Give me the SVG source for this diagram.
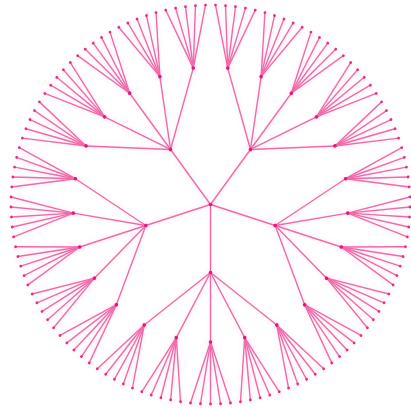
<svg xmlns="http://www.w3.org/2000/svg" xmlns:xlink="http://www.w3.org/1999/xlink" width="411" height="408" viewBox="0 0 411 408">
<style>
.lk use{fill:none;stroke:#f06aa9;stroke-width:1.4}
.nd circle{fill:#e8157a}
.lf circle{fill:#ea2a86}
</style>
<defs>
<filter id="glow" x="-10%" y="-10%" width="120%" height="120%">
<feGaussianBlur in="SourceGraphic" stdDeviation="2.5" result="b"/>
<feComponentTransfer in="b" result="c"><feFuncA type="linear" slope="0.2"/></feComponentTransfer>
<feMerge><feMergeNode in="c"/><feMergeNode in="SourceGraphic"/></feMerge>
</filter>
<path id="o" d="M0 0H68"/>
<path id="p" d="M68 0L120.49 -66.24"/>
<path id="q" d="M68 0L133.18 -34.2"/>
<path id="r" d="M68 0H137.5"/>
<path id="s" d="M68 0L133.18 34.2"/>
<path id="t" d="M68 0L120.49 66.24"/>
<path id="a" d="M137.5 0L198.49 -20.02"/>
<path id="b" d="M137.5 0L199.25 -10.02"/>
<path id="c" d="M137.5 0H199.5"/>
<path id="d" d="M137.5 0L199.25 10.02"/>
<path id="e" d="M137.5 0L198.49 20.02"/>
</defs>
<rect width="411" height="408" fill="#fff"/>
<g transform="translate(210.5 204.5)" filter="url(#glow)">
<g id="links" class="lk">
<g transform="rotate(90)"><use href="#o"/><use href="#p"/><use href="#q"/><use href="#r"/><use href="#s"/><use href="#t"/></g>
<g transform="rotate(162)"><use href="#o"/><use href="#p"/><use href="#q"/><use href="#r"/><use href="#s"/><use href="#t"/></g>
<g transform="rotate(234)"><use href="#o"/><use href="#p"/><use href="#q"/><use href="#r"/><use href="#s"/><use href="#t"/></g>
<g transform="rotate(306)"><use href="#o"/><use href="#p"/><use href="#q"/><use href="#r"/><use href="#s"/><use href="#t"/></g>
<g transform="rotate(18)"><use href="#o"/><use href="#p"/><use href="#q"/><use href="#r"/><use href="#s"/><use href="#t"/></g>
<g transform="rotate(61.2)"><use href="#a"/><use href="#b"/><use href="#c"/><use href="#d"/><use href="#e"/></g>
<g transform="rotate(75.6)"><use href="#a"/><use href="#b"/><use href="#c"/><use href="#d"/><use href="#e"/></g>
<g transform="rotate(90)"><use href="#a"/><use href="#b"/><use href="#c"/><use href="#d"/><use href="#e"/></g>
<g transform="rotate(104.4)"><use href="#a"/><use href="#b"/><use href="#c"/><use href="#d"/><use href="#e"/></g>
<g transform="rotate(118.8)"><use href="#a"/><use href="#b"/><use href="#c"/><use href="#d"/><use href="#e"/></g>
<g transform="rotate(133.2)"><use href="#a"/><use href="#b"/><use href="#c"/><use href="#d"/><use href="#e"/></g>
<g transform="rotate(147.6)"><use href="#a"/><use href="#b"/><use href="#c"/><use href="#d"/><use href="#e"/></g>
<g transform="rotate(162)"><use href="#a"/><use href="#b"/><use href="#c"/><use href="#d"/><use href="#e"/></g>
<g transform="rotate(176.4)"><use href="#a"/><use href="#b"/><use href="#c"/><use href="#d"/><use href="#e"/></g>
<g transform="rotate(190.8)"><use href="#a"/><use href="#b"/><use href="#c"/><use href="#d"/><use href="#e"/></g>
<g transform="rotate(205.2)"><use href="#a"/><use href="#b"/><use href="#c"/><use href="#d"/><use href="#e"/></g>
<g transform="rotate(219.6)"><use href="#a"/><use href="#b"/><use href="#c"/><use href="#d"/><use href="#e"/></g>
<g transform="rotate(234)"><use href="#a"/><use href="#b"/><use href="#c"/><use href="#d"/><use href="#e"/></g>
<g transform="rotate(248.4)"><use href="#a"/><use href="#b"/><use href="#c"/><use href="#d"/><use href="#e"/></g>
<g transform="rotate(262.8)"><use href="#a"/><use href="#b"/><use href="#c"/><use href="#d"/><use href="#e"/></g>
<g transform="rotate(277.2)"><use href="#a"/><use href="#b"/><use href="#c"/><use href="#d"/><use href="#e"/></g>
<g transform="rotate(291.6)"><use href="#a"/><use href="#b"/><use href="#c"/><use href="#d"/><use href="#e"/></g>
<g transform="rotate(306)"><use href="#a"/><use href="#b"/><use href="#c"/><use href="#d"/><use href="#e"/></g>
<g transform="rotate(320.4)"><use href="#a"/><use href="#b"/><use href="#c"/><use href="#d"/><use href="#e"/></g>
<g transform="rotate(334.8)"><use href="#a"/><use href="#b"/><use href="#c"/><use href="#d"/><use href="#e"/></g>
<g transform="rotate(349.2)"><use href="#a"/><use href="#b"/><use href="#c"/><use href="#d"/><use href="#e"/></g>
<g transform="rotate(3.6)"><use href="#a"/><use href="#b"/><use href="#c"/><use href="#d"/><use href="#e"/></g>
<g transform="rotate(18)"><use href="#a"/><use href="#b"/><use href="#c"/><use href="#d"/><use href="#e"/></g>
<g transform="rotate(32.4)"><use href="#a"/><use href="#b"/><use href="#c"/><use href="#d"/><use href="#e"/></g>
<g transform="rotate(46.8)"><use href="#a"/><use href="#b"/><use href="#c"/><use href="#d"/><use href="#e"/></g>
</g>
<g id="nodes" class="nd">
<g id="n"><circle r="1.8"/></g>
<g id="n-0" transform="rotate(90)"><circle cx="68" r="1.8"/></g>
<g id="n-1" transform="rotate(162)"><circle cx="68" r="1.8"/></g>
<g id="n-2" transform="rotate(234)"><circle cx="68" r="1.8"/></g>
<g id="n-3" transform="rotate(306)"><circle cx="68" r="1.8"/></g>
<g id="n-4" transform="rotate(18)"><circle cx="68" r="1.8"/></g>
<g id="n-0-0" transform="rotate(61.2)"><circle cx="137.5" r="1.8"/></g>
<g id="n-0-1" transform="rotate(75.6)"><circle cx="137.5" r="1.8"/></g>
<g id="n-0-2" transform="rotate(90)"><circle cx="137.5" r="1.8"/></g>
<g id="n-0-3" transform="rotate(104.4)"><circle cx="137.5" r="1.8"/></g>
<g id="n-0-4" transform="rotate(118.8)"><circle cx="137.5" r="1.8"/></g>
<g id="n-1-0" transform="rotate(133.2)"><circle cx="137.5" r="1.8"/></g>
<g id="n-1-1" transform="rotate(147.6)"><circle cx="137.5" r="1.8"/></g>
<g id="n-1-2" transform="rotate(162)"><circle cx="137.5" r="1.8"/></g>
<g id="n-1-3" transform="rotate(176.4)"><circle cx="137.5" r="1.8"/></g>
<g id="n-1-4" transform="rotate(190.8)"><circle cx="137.5" r="1.8"/></g>
<g id="n-2-0" transform="rotate(205.2)"><circle cx="137.5" r="1.8"/></g>
<g id="n-2-1" transform="rotate(219.6)"><circle cx="137.5" r="1.8"/></g>
<g id="n-2-2" transform="rotate(234)"><circle cx="137.5" r="1.8"/></g>
<g id="n-2-3" transform="rotate(248.4)"><circle cx="137.5" r="1.8"/></g>
<g id="n-2-4" transform="rotate(262.8)"><circle cx="137.5" r="1.8"/></g>
<g id="n-3-0" transform="rotate(277.2)"><circle cx="137.5" r="1.8"/></g>
<g id="n-3-1" transform="rotate(291.6)"><circle cx="137.5" r="1.8"/></g>
<g id="n-3-2" transform="rotate(306)"><circle cx="137.5" r="1.8"/></g>
<g id="n-3-3" transform="rotate(320.4)"><circle cx="137.5" r="1.8"/></g>
<g id="n-3-4" transform="rotate(334.8)"><circle cx="137.5" r="1.8"/></g>
<g id="n-4-0" transform="rotate(349.2)"><circle cx="137.5" r="1.8"/></g>
<g id="n-4-1" transform="rotate(3.6)"><circle cx="137.5" r="1.8"/></g>
<g id="n-4-2" transform="rotate(18)"><circle cx="137.5" r="1.8"/></g>
<g id="n-4-3" transform="rotate(32.4)"><circle cx="137.5" r="1.8"/></g>
<g id="n-4-4" transform="rotate(46.8)"><circle cx="137.5" r="1.8"/></g>
</g>
<g id="leaves" class="lf">
<g id="n-0-0-0" transform="rotate(55.44)"><circle cx="199.5" r="1.4"/></g>
<g id="n-0-0-1" transform="rotate(58.32)"><circle cx="199.5" r="1.4"/></g>
<g id="n-0-0-2" transform="rotate(61.2)"><circle cx="199.5" r="1.4"/></g>
<g id="n-0-0-3" transform="rotate(64.08)"><circle cx="199.5" r="1.4"/></g>
<g id="n-0-0-4" transform="rotate(66.96)"><circle cx="199.5" r="1.4"/></g>
<g id="n-0-1-0" transform="rotate(69.84)"><circle cx="199.5" r="1.4"/></g>
<g id="n-0-1-1" transform="rotate(72.72)"><circle cx="199.5" r="1.4"/></g>
<g id="n-0-1-2" transform="rotate(75.6)"><circle cx="199.5" r="1.4"/></g>
<g id="n-0-1-3" transform="rotate(78.48)"><circle cx="199.5" r="1.4"/></g>
<g id="n-0-1-4" transform="rotate(81.36)"><circle cx="199.5" r="1.4"/></g>
<g id="n-0-2-0" transform="rotate(84.24)"><circle cx="199.5" r="1.4"/></g>
<g id="n-0-2-1" transform="rotate(87.12)"><circle cx="199.5" r="1.4"/></g>
<g id="n-0-2-2" transform="rotate(90)"><circle cx="199.5" r="1.4"/></g>
<g id="n-0-2-3" transform="rotate(92.88)"><circle cx="199.5" r="1.4"/></g>
<g id="n-0-2-4" transform="rotate(95.76)"><circle cx="199.5" r="1.4"/></g>
<g id="n-0-3-0" transform="rotate(98.64)"><circle cx="199.5" r="1.4"/></g>
<g id="n-0-3-1" transform="rotate(101.52)"><circle cx="199.5" r="1.4"/></g>
<g id="n-0-3-2" transform="rotate(104.4)"><circle cx="199.5" r="1.4"/></g>
<g id="n-0-3-3" transform="rotate(107.28)"><circle cx="199.5" r="1.4"/></g>
<g id="n-0-3-4" transform="rotate(110.16)"><circle cx="199.5" r="1.4"/></g>
<g id="n-0-4-0" transform="rotate(113.04)"><circle cx="199.5" r="1.4"/></g>
<g id="n-0-4-1" transform="rotate(115.92)"><circle cx="199.5" r="1.4"/></g>
<g id="n-0-4-2" transform="rotate(118.8)"><circle cx="199.5" r="1.4"/></g>
<g id="n-0-4-3" transform="rotate(121.68)"><circle cx="199.5" r="1.4"/></g>
<g id="n-0-4-4" transform="rotate(124.56)"><circle cx="199.5" r="1.4"/></g>
<g id="n-1-0-0" transform="rotate(127.44)"><circle cx="199.5" r="1.4"/></g>
<g id="n-1-0-1" transform="rotate(130.32)"><circle cx="199.5" r="1.4"/></g>
<g id="n-1-0-2" transform="rotate(133.2)"><circle cx="199.5" r="1.4"/></g>
<g id="n-1-0-3" transform="rotate(136.08)"><circle cx="199.5" r="1.4"/></g>
<g id="n-1-0-4" transform="rotate(138.96)"><circle cx="199.5" r="1.4"/></g>
<g id="n-1-1-0" transform="rotate(141.84)"><circle cx="199.5" r="1.4"/></g>
<g id="n-1-1-1" transform="rotate(144.72)"><circle cx="199.5" r="1.4"/></g>
<g id="n-1-1-2" transform="rotate(147.6)"><circle cx="199.5" r="1.4"/></g>
<g id="n-1-1-3" transform="rotate(150.48)"><circle cx="199.5" r="1.4"/></g>
<g id="n-1-1-4" transform="rotate(153.36)"><circle cx="199.5" r="1.4"/></g>
<g id="n-1-2-0" transform="rotate(156.24)"><circle cx="199.5" r="1.4"/></g>
<g id="n-1-2-1" transform="rotate(159.12)"><circle cx="199.5" r="1.4"/></g>
<g id="n-1-2-2" transform="rotate(162)"><circle cx="199.5" r="1.4"/></g>
<g id="n-1-2-3" transform="rotate(164.88)"><circle cx="199.5" r="1.4"/></g>
<g id="n-1-2-4" transform="rotate(167.76)"><circle cx="199.5" r="1.4"/></g>
<g id="n-1-3-0" transform="rotate(170.64)"><circle cx="199.5" r="1.4"/></g>
<g id="n-1-3-1" transform="rotate(173.52)"><circle cx="199.5" r="1.4"/></g>
<g id="n-1-3-2" transform="rotate(176.4)"><circle cx="199.5" r="1.4"/></g>
<g id="n-1-3-3" transform="rotate(179.28)"><circle cx="199.5" r="1.4"/></g>
<g id="n-1-3-4" transform="rotate(182.16)"><circle cx="199.5" r="1.4"/></g>
<g id="n-1-4-0" transform="rotate(185.04)"><circle cx="199.5" r="1.4"/></g>
<g id="n-1-4-1" transform="rotate(187.92)"><circle cx="199.5" r="1.4"/></g>
<g id="n-1-4-2" transform="rotate(190.8)"><circle cx="199.5" r="1.4"/></g>
<g id="n-1-4-3" transform="rotate(193.68)"><circle cx="199.5" r="1.4"/></g>
<g id="n-1-4-4" transform="rotate(196.56)"><circle cx="199.5" r="1.4"/></g>
<g id="n-2-0-0" transform="rotate(199.44)"><circle cx="199.5" r="1.4"/></g>
<g id="n-2-0-1" transform="rotate(202.32)"><circle cx="199.5" r="1.4"/></g>
<g id="n-2-0-2" transform="rotate(205.2)"><circle cx="199.5" r="1.4"/></g>
<g id="n-2-0-3" transform="rotate(208.08)"><circle cx="199.5" r="1.4"/></g>
<g id="n-2-0-4" transform="rotate(210.96)"><circle cx="199.5" r="1.4"/></g>
<g id="n-2-1-0" transform="rotate(213.84)"><circle cx="199.5" r="1.4"/></g>
<g id="n-2-1-1" transform="rotate(216.72)"><circle cx="199.5" r="1.4"/></g>
<g id="n-2-1-2" transform="rotate(219.6)"><circle cx="199.5" r="1.4"/></g>
<g id="n-2-1-3" transform="rotate(222.48)"><circle cx="199.5" r="1.4"/></g>
<g id="n-2-1-4" transform="rotate(225.36)"><circle cx="199.5" r="1.4"/></g>
<g id="n-2-2-0" transform="rotate(228.24)"><circle cx="199.5" r="1.4"/></g>
<g id="n-2-2-1" transform="rotate(231.12)"><circle cx="199.5" r="1.4"/></g>
<g id="n-2-2-2" transform="rotate(234)"><circle cx="199.5" r="1.4"/></g>
<g id="n-2-2-3" transform="rotate(236.88)"><circle cx="199.5" r="1.4"/></g>
<g id="n-2-2-4" transform="rotate(239.76)"><circle cx="199.5" r="1.4"/></g>
<g id="n-2-3-0" transform="rotate(242.64)"><circle cx="199.5" r="1.4"/></g>
<g id="n-2-3-1" transform="rotate(245.52)"><circle cx="199.5" r="1.4"/></g>
<g id="n-2-3-2" transform="rotate(248.4)"><circle cx="199.5" r="1.4"/></g>
<g id="n-2-3-3" transform="rotate(251.28)"><circle cx="199.5" r="1.4"/></g>
<g id="n-2-3-4" transform="rotate(254.16)"><circle cx="199.5" r="1.4"/></g>
<g id="n-2-4-0" transform="rotate(257.04)"><circle cx="199.5" r="1.4"/></g>
<g id="n-2-4-1" transform="rotate(259.92)"><circle cx="199.5" r="1.4"/></g>
<g id="n-2-4-2" transform="rotate(262.8)"><circle cx="199.5" r="1.4"/></g>
<g id="n-2-4-3" transform="rotate(265.68)"><circle cx="199.5" r="1.4"/></g>
<g id="n-2-4-4" transform="rotate(268.56)"><circle cx="199.5" r="1.4"/></g>
<g id="n-3-0-0" transform="rotate(271.44)"><circle cx="199.5" r="1.4"/></g>
<g id="n-3-0-1" transform="rotate(274.32)"><circle cx="199.5" r="1.4"/></g>
<g id="n-3-0-2" transform="rotate(277.2)"><circle cx="199.5" r="1.4"/></g>
<g id="n-3-0-3" transform="rotate(280.08)"><circle cx="199.5" r="1.4"/></g>
<g id="n-3-0-4" transform="rotate(282.96)"><circle cx="199.5" r="1.4"/></g>
<g id="n-3-1-0" transform="rotate(285.84)"><circle cx="199.5" r="1.4"/></g>
<g id="n-3-1-1" transform="rotate(288.72)"><circle cx="199.5" r="1.4"/></g>
<g id="n-3-1-2" transform="rotate(291.6)"><circle cx="199.5" r="1.4"/></g>
<g id="n-3-1-3" transform="rotate(294.48)"><circle cx="199.5" r="1.4"/></g>
<g id="n-3-1-4" transform="rotate(297.36)"><circle cx="199.5" r="1.4"/></g>
<g id="n-3-2-0" transform="rotate(300.24)"><circle cx="199.5" r="1.4"/></g>
<g id="n-3-2-1" transform="rotate(303.12)"><circle cx="199.5" r="1.4"/></g>
<g id="n-3-2-2" transform="rotate(306)"><circle cx="199.5" r="1.4"/></g>
<g id="n-3-2-3" transform="rotate(308.88)"><circle cx="199.5" r="1.4"/></g>
<g id="n-3-2-4" transform="rotate(311.76)"><circle cx="199.5" r="1.4"/></g>
<g id="n-3-3-0" transform="rotate(314.64)"><circle cx="199.5" r="1.4"/></g>
<g id="n-3-3-1" transform="rotate(317.52)"><circle cx="199.5" r="1.4"/></g>
<g id="n-3-3-2" transform="rotate(320.4)"><circle cx="199.5" r="1.4"/></g>
<g id="n-3-3-3" transform="rotate(323.28)"><circle cx="199.5" r="1.4"/></g>
<g id="n-3-3-4" transform="rotate(326.16)"><circle cx="199.5" r="1.4"/></g>
<g id="n-3-4-0" transform="rotate(329.04)"><circle cx="199.5" r="1.4"/></g>
<g id="n-3-4-1" transform="rotate(331.92)"><circle cx="199.5" r="1.4"/></g>
<g id="n-3-4-2" transform="rotate(334.8)"><circle cx="199.5" r="1.4"/></g>
<g id="n-3-4-3" transform="rotate(337.68)"><circle cx="199.5" r="1.4"/></g>
<g id="n-3-4-4" transform="rotate(340.56)"><circle cx="199.5" r="1.4"/></g>
<g id="n-4-0-0" transform="rotate(343.44)"><circle cx="199.5" r="1.4"/></g>
<g id="n-4-0-1" transform="rotate(346.32)"><circle cx="199.5" r="1.4"/></g>
<g id="n-4-0-2" transform="rotate(349.2)"><circle cx="199.5" r="1.4"/></g>
<g id="n-4-0-3" transform="rotate(352.08)"><circle cx="199.5" r="1.4"/></g>
<g id="n-4-0-4" transform="rotate(354.96)"><circle cx="199.5" r="1.4"/></g>
<g id="n-4-1-0" transform="rotate(357.84)"><circle cx="199.5" r="1.4"/></g>
<g id="n-4-1-1" transform="rotate(0.72)"><circle cx="199.5" r="1.4"/></g>
<g id="n-4-1-2" transform="rotate(3.6)"><circle cx="199.5" r="1.4"/></g>
<g id="n-4-1-3" transform="rotate(6.48)"><circle cx="199.5" r="1.4"/></g>
<g id="n-4-1-4" transform="rotate(9.36)"><circle cx="199.5" r="1.4"/></g>
<g id="n-4-2-0" transform="rotate(12.24)"><circle cx="199.5" r="1.4"/></g>
<g id="n-4-2-1" transform="rotate(15.12)"><circle cx="199.5" r="1.4"/></g>
<g id="n-4-2-2" transform="rotate(18)"><circle cx="199.5" r="1.4"/></g>
<g id="n-4-2-3" transform="rotate(20.88)"><circle cx="199.5" r="1.4"/></g>
<g id="n-4-2-4" transform="rotate(23.76)"><circle cx="199.5" r="1.4"/></g>
<g id="n-4-3-0" transform="rotate(26.64)"><circle cx="199.5" r="1.4"/></g>
<g id="n-4-3-1" transform="rotate(29.52)"><circle cx="199.5" r="1.4"/></g>
<g id="n-4-3-2" transform="rotate(32.4)"><circle cx="199.5" r="1.4"/></g>
<g id="n-4-3-3" transform="rotate(35.28)"><circle cx="199.5" r="1.4"/></g>
<g id="n-4-3-4" transform="rotate(38.16)"><circle cx="199.5" r="1.4"/></g>
<g id="n-4-4-0" transform="rotate(41.04)"><circle cx="199.5" r="1.4"/></g>
<g id="n-4-4-1" transform="rotate(43.92)"><circle cx="199.5" r="1.4"/></g>
<g id="n-4-4-2" transform="rotate(46.8)"><circle cx="199.5" r="1.4"/></g>
<g id="n-4-4-3" transform="rotate(49.68)"><circle cx="199.5" r="1.4"/></g>
<g id="n-4-4-4" transform="rotate(52.56)"><circle cx="199.5" r="1.4"/></g>
</g>
</g>
</svg>
